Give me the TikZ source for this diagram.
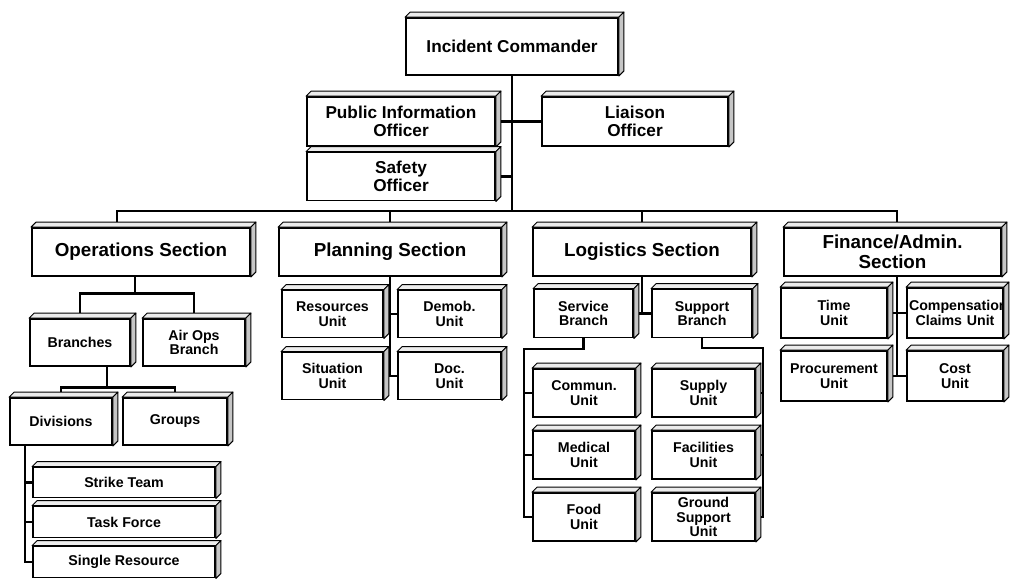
\documentclass[tikz,border=0pt]{standalone}
\usepackage{fontspec}
\setmainfont{Liberation Sans}
\usepackage{tikz}

% raised 3D edge on top and right of a box
\newcommand{\bevel}[1]{%
  \draw[bevelline, fill=gray!15] (#1.north west) -- ++(2.5pt,2.5pt) -- ([shift={(2.5pt,2.5pt)}]#1.north east) -- (#1.north east) -- cycle;
  \draw[bevelline, fill=gray!45] (#1.north east) -- ([shift={(2.5pt,2.5pt)}]#1.north east) -- ([shift={(2.5pt,2.5pt)}]#1.south east) -- (#1.south east) -- cycle;}

\begin{document}
\begin{tikzpicture}[x=0.5pt, y=-0.5pt,
    box/.style 2 args={draw, fill=white, line width=0.9pt, inner sep=0.5pt, align=center, minimum width=#1, minimum height=#2},
    topfont/.style={font=\fontsize{8.6}{8.8}\selectfont\bfseries},
    secfont/.style={font=\fontsize{9.4}{9.8}\selectfont\bfseries},
    unitfont/.style={font=\fontsize{7.1}{7.3}\selectfont\bfseries},
    bevelline/.style={line width=0.5pt, line join=round},
    link/.style={line width=1.3pt},
]
\useasboundingbox (0,0) rectangle (1010,584);

% command staff
\node[box={106pt}{28.5pt}, topfont] (ic) at (512,46.5) {Incident Commander};
\node[box={94pt}{24.5pt}, topfont] (pio) at (401,121.5) {Public Information\\Officer};
\node[box={93pt}{24.5pt}, topfont] (liaison) at (635,121.5) {Liaison\\Officer};
\node[box={94pt}{24pt}, topfont] (safety) at (401,176.5) {Safety\\Officer};
\coordinate (bus) at (512,211);

% sections
\node[box={109pt}{24pt}, secfont] (ops) at (141,252) {Operations Section};
\node[box={111pt}{24pt}, secfont] (plan) at (390,252) {Planning Section};
\node[box={109pt}{24pt}, secfont] (logi) at (642,252) {Logistics Section};
\node[box={108.5pt}{24pt}, secfont] (fin) at (892.5,252) {Finance/Admin.\\Section};

% operations
\node[box={50pt}{23.5pt}, unitfont] (branches) at (80,342.5) {Branches};
\node[box={51pt}{23.5pt}, unitfont] (airops) at (194,342.5) {Air Ops\\Branch};
\node[box={51pt}{23.5pt}, unitfont] (divisions) at (61,421.5) {Divisions};
\node[box={52pt}{23.5pt}, unitfont] (groups) at (175,421.5) {Groups};
\node[box={91pt}{15pt}, unitfont] (strike) at (124,482.5) {Strike Team};
\node[box={91pt}{15.5pt}, unitfont] (taskforce) at (124,522) {Task Force};
\node[box={91pt}{15.5pt}, unitfont] (single) at (124,562) {Single Resource};

% planning
\node[box={50.5pt}{23.5pt}, unitfont] (resunit) at (332.5,314) {Resources\\Unit};
\node[box={51.5pt}{23.5pt}, unitfont] (demob) at (449.5,314) {Demob.\\Unit};
\node[box={50.5pt}{23.5pt}, unitfont] (situation) at (332.5,376) {Situation\\Unit};
\node[box={51.5pt}{23.5pt}, unitfont] (doc) at (449.5,376) {Doc.\\Unit};

% logistics
\node[box={49.5pt}{24pt}, unitfont] (service) at (583.5,313.5) {Service\\Branch};
\node[box={50pt}{24pt}, unitfont] (support) at (702,313.5) {Support\\Branch};
\node[box={51pt}{24pt}, unitfont] (commun) at (584,393) {Commun.\\Unit};
\node[box={51pt}{24pt}, unitfont] (medical) at (584,455) {Medical\\Unit};
\node[box={51pt}{24pt}, unitfont] (food) at (584,517) {Food\\Unit};
\node[box={51.5pt}{24pt}, unitfont] (supply) at (703.5,393) {Supply\\Unit};
\node[box={51.5pt}{24pt}, unitfont] (facilities) at (703.5,455) {Facilities\\Unit};
\node[box={51.5pt}{24pt}, unitfont] (ground) at (703.5,517) {Ground\\Support\\Unit};

% finance
\node[box={53pt}{25pt}, unitfont] (time) at (834,313) {Time\\Unit};
\node[box={48pt}{25pt}, unitfont, text width=46pt] (comp) at (955,313) {Compensation\\Claims Unit};
\node[box={53pt}{25pt}, unitfont] (proc) at (834,376) {Procurement\\Unit};
\node[box={48pt}{25pt}, unitfont] (cost) at (955,376) {Cost\\Unit};

% connectors
\draw[link] (ic.south) -- (ic.south |- bus);
\draw[link] (pio.east) -- (liaison.west);
\draw[link] (safety.east) -- (safety.east -| ic.south);
\draw[link] ([xshift=-12pt]ops.north) |- (bus) -| ([xshift=2.25pt]fin.north);
\draw[link] (plan.north) -- (plan.north |- bus);
\draw[link] (logi.north) -- (logi.north |- bus);

\coordinate (opsjoin) at (135,293.5);
\draw[link] (ops.south -| opsjoin) -- (opsjoin);
\draw[link] (branches.north) |- (opsjoin) -| (airops.north);
\coordinate (brjoin) at (107,387.5);
\draw[link] (branches.south -| brjoin) -- (brjoin);
\draw[link] (divisions.north) |- (brjoin) -| (groups.north);
\coordinate (divline) at (25,445);
\draw[link] (divisions.south -| divline) |- (single.west);
\draw[link] (divline |- strike.west) -- (strike.west);
\draw[link] (divline |- taskforce.west) -- (taskforce.west);

\draw[link] (plan.south) |- (doc.west);
\draw[link] (resunit.east) -- (demob.west);

\draw[link] (logi.south) -- (logi.south |- service.east);
\draw[link] (service.east) -- (support.west);
\coordinate (svcline) at (524,349);
\draw[link] (service.south) |- (svcline) |- (food.west);
\draw[link] (svcline |- commun.west) -- (commun.west);
\draw[link] (svcline |- medical.west) -- (medical.west);
\coordinate (supline) at (763,348);
\draw[link] (support.south) |- (supline) |- (ground.east);
\draw[link] (supline |- supply.east) -- (supply.east);
\draw[link] (supline |- facilities.east) -- (facilities.east);

\draw[link] ([xshift=2.25pt]fin.south) -- ([xshift=2.25pt]fin.south |- proc.east);
\draw[link] (time.east) -- (comp.west);
\draw[link] (proc.east) -- (cost.west);

\foreach \n in {ic,pio,liaison,safety,ops,plan,logi,fin,branches,airops,divisions,groups,strike,taskforce,single,resunit,demob,situation,doc,service,support,commun,medical,food,supply,facilities,ground,time,comp,proc,cost}
  {\bevel{\n}}
\end{tikzpicture}
\end{document}
